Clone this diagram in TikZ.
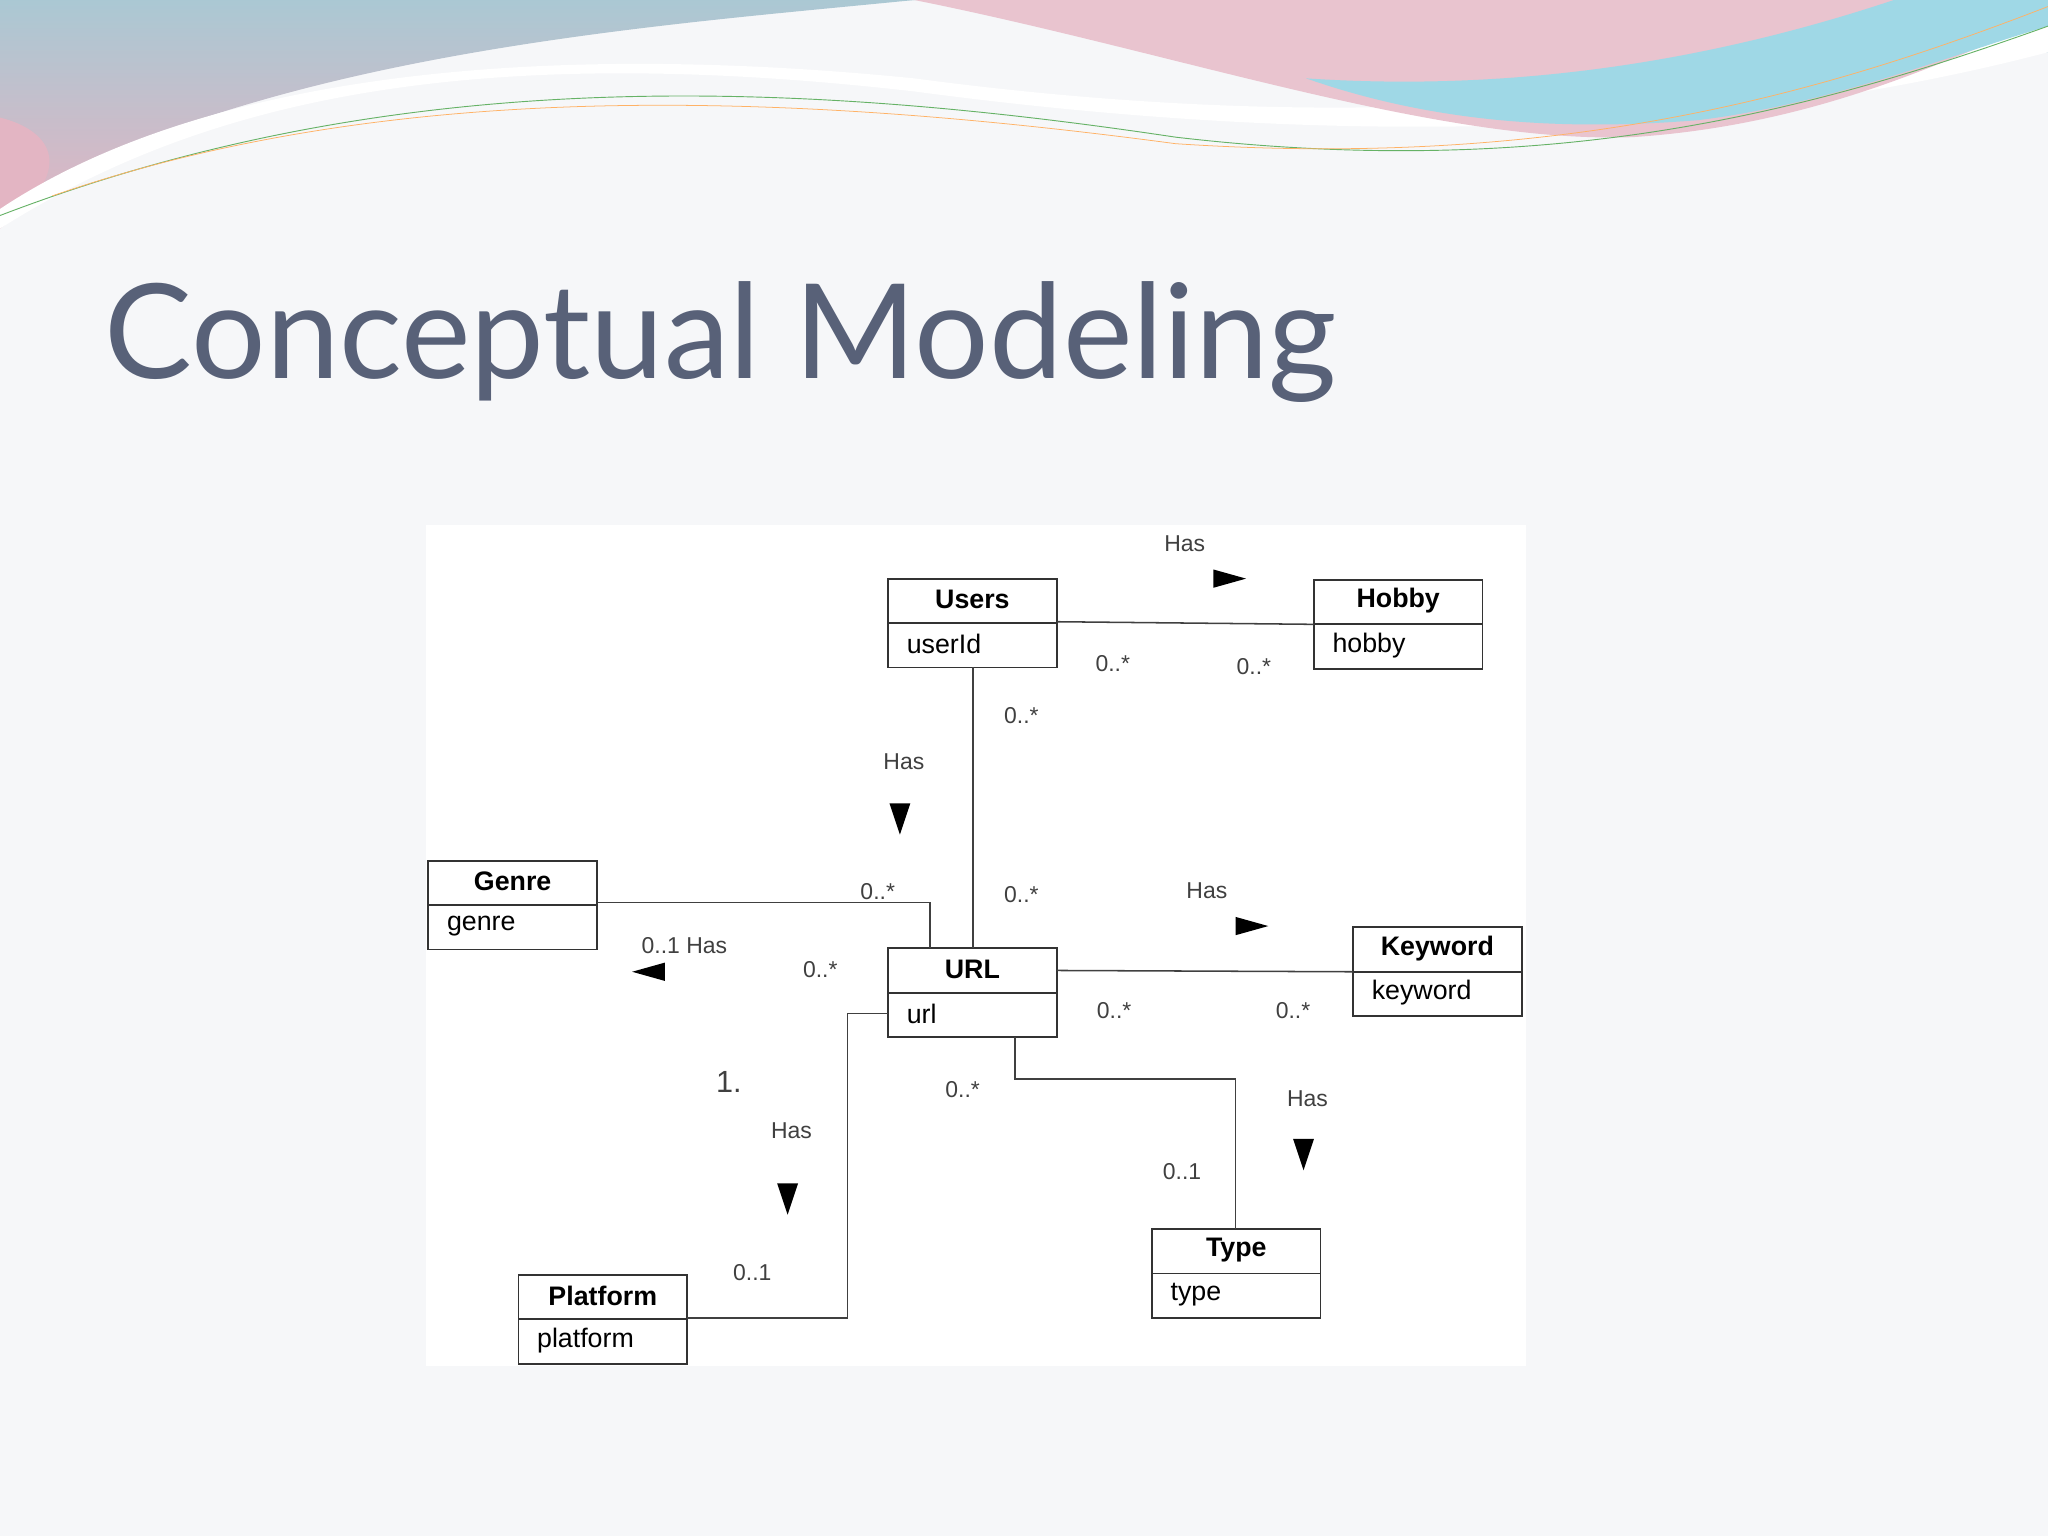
\documentclass[tikz,border=0pt]{standalone}
\usepackage{fontspec}
\setmainfont{Liberation Sans}
\newfontfamily\titlefont{Lato}
\definecolor{bgc}{HTML}{F6F7F9}
\definecolor{titc}{HTML}{586178}
\definecolor{pinkc}{HTML}{E3B5C3}
\definecolor{tealc}{HTML}{A9CCD6}
\definecolor{bluec}{HTML}{9FD8E6}
\definecolor{greyb}{HTML}{B0B8C8}
\begin{document}
\begin{tikzpicture}[x=0.3mm,y=-0.3mm,
  lbl/.style={font=\fontsize{15}{17}\selectfont,text=black!75,inner sep=1pt},
  conn/.style={draw=black!75,line width=1pt},
  tri/.style={fill=black}]
\useasboundingbox (0,0) rectangle (1568,1176);
\fill[bgc] (0,0) rectangle (1568,1176);
% top decoration
\fill[tealc] (0,0) -- (1568,0) -- (1568,40) .. controls (1200,60) and (900,10) .. (700,0) -- cycle;
\shade[top color=tealc!80!greyb,bottom color=pinkc!90!greyb] (0,0) -- (700,0) .. controls (500,20) and (200,40) .. (0,160) -- cycle;
\fill[pinkc] (0,90) .. controls (40,100) and (60,130) .. (0,175) -- cycle;
\fill[white] (0,175) .. controls (150,80) and (350,30) .. (700,70) .. controls (1000,110) and (1300,110) .. (1568,40) -- (1568,0) -- (1540,0) .. controls (1300,90) and (1000,100) .. (700,60) .. controls (400,30) and (150,60) .. (0,160) -- cycle;
\fill[pinkc!80] (700,0) .. controls (900,40) and (1100,110) .. (1250,105) .. controls (1400,95) and (1500,40) .. (1568,15) -- (1568,0) -- cycle;
\fill[bluec] (1000,60) .. controls (1100,95) and (1200,100) .. (1300,92) .. controls (1400,80) and (1500,40) .. (1568,20) -- (1568,0) -- (1450,0) .. controls (1300,50) and (1150,70) .. (1000,60) -- cycle;
\draw[green!50!black!60,line width=0.6pt] (0,165) .. controls (300,50) and (600,60) .. (900,105) .. controls (1200,140) and (1400,80) .. (1568,20);
\draw[orange!60,line width=0.5pt] (40,150) .. controls (300,60) and (600,70) .. (900,110) .. controls (1200,130) and (1400,70) .. (1568,5);
\node[anchor=base west,text=titc,inner sep=0pt] (title) at (80,290) {\titlefont\fontsize{86}{90}\selectfont Conceptual Modeling};
% panel
\fill[white] (326,402) rectangle (1168,1046);
% classes
\newcommand{\cls}[5]{% name x y title attr
  \draw[black!80,line width=1.2pt,fill=white] (#2,#3) rectangle ++(129,68);
  \draw[black!80,line width=1.2pt] (#2,#3+34) -- ++(129,0);
  \node[font=\bfseries\fontsize{17.5}{19}\selectfont,inner sep=0pt] (#1) at (#2+64.5,#3+16) {#4};
  \node[font=\fontsize{17.5}{19}\selectfont,anchor=west,inner sep=0pt] (#1a) at (#2+14,#3+50) {#5};
  \coordinate (#1box) at (#2,#3);}
\cls{users}{680}{443}{Users}{userId}
\cls{hobby}{1006}{444}{Hobby}{hobby}
\cls{genre}{328}{659}{Genre}{genre}
\cls{url}{680}{726}{URL}{url}
\cls{kw}{1036}{710}{Keyword}{keyword}
\cls{type}{882}{941}{Type}{type}
\cls{plat}{397}{976}{Platform}{platform}
% connectors
\coordinate (a1) at (809,476); \coordinate (a2) at (1006,478);
\draw[conn] (a1) -- (a2);
\coordinate (b1) at (745,511); \coordinate (b2) at (745,726);
\draw[conn] (b1) -- (b2);
\coordinate (c1) at (457,691); \coordinate (c2) at (712,691); \coordinate (c3) at (712,726);
\draw[conn] (c1) -- (c2) -- (c3);
\coordinate (d1) at (809,743); \coordinate (d2) at (1036,744);
\draw[conn] (d1) -- (d2);
\coordinate (e1) at (777,794); \coordinate (e2) at (777,826); \coordinate (e3) at (946,826); \coordinate (e4) at (946,941);
\draw[conn] (e1) -- (e2) -- (e3) -- (e4);
\coordinate (f1) at (680,776); \coordinate (f2) at (649,776); \coordinate (f3) at (649,1009); \coordinate (f4) at (526,1009);
\draw[conn] (f1) -- (f2) -- (f3) -- (f4);
% labels
\node[lbl] (l1) at (907,416) {Has};
\fill[tri] (929,436) -- (954,443) -- (929,450) -- cycle;
\node[lbl] (l2) at (852,508) {0..*};
\node[lbl] (l3) at (960,510) {0..*};
\node[lbl] (l4) at (782,548) {0..*};
\node[lbl] (l5) at (692,583) {Has};
\fill[tri] (681,615) -- (697,615) -- (689,639) -- cycle;
\node[lbl] (l6) at (672,683) {0..*};
\node[lbl] (l7) at (782,685) {0..*};
\node[lbl] (l8) at (924,682) {Has};
\fill[tri] (946,702) -- (971,709) -- (946,716) -- cycle;
\node[lbl] (l9) at (524,724) {0..1 Has};
\fill[tri] (509,737) -- (484,744) -- (509,751) -- cycle;
\node[lbl] (l10) at (628,742) {0..*};
\node[lbl] (l11) at (853,774) {0..*};
\node[lbl] (l12) at (990,774) {0..*};
\node[lbl,font=\fontsize{20}{22}\selectfont] (l13) at (558,828) {1.};
\node[lbl] (l14) at (606,866) {Has};
\fill[tri] (595,906) -- (611,906) -- (603,930) -- cycle;
\node[lbl] (l15) at (737,834) {0..*};
\node[lbl] (l16) at (1001,841) {Has};
\fill[tri] (990,872) -- (1006,872) -- (998,896) -- cycle;
\node[lbl] (l17) at (905,897) {0..1};
\node[lbl] (l18) at (576,974) {0..1};
\end{tikzpicture}
\end{document}
